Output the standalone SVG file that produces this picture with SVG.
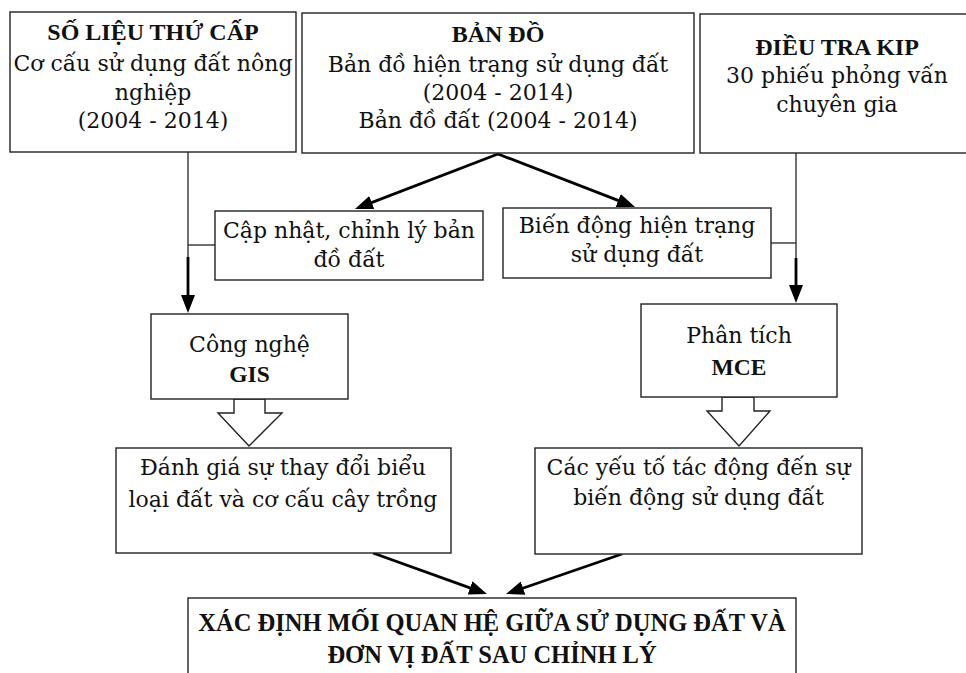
<svg xmlns="http://www.w3.org/2000/svg" width="966" height="673" viewBox="0 0 966 673">
<style>
.box{fill:#fff;stroke:#222;stroke-width:1.4}
.t{font-family:"DejaVu Serif","Liberation Serif",serif;font-size:22px;fill:#111;text-anchor:middle}
.b{font-family:"Liberation Serif","DejaVu Serif",serif;font-weight:bold;font-size:24px}
.bs{font-size:23.5px}
.bb{font-family:"Liberation Serif","DejaVu Serif",serif;font-weight:bold;font-size:24.5px}
.thin{stroke:#333;stroke-width:1.4;fill:none}
.thick{stroke:#000;stroke-width:2.8;fill:none}
.blk{fill:#fff;stroke:#222;stroke-width:1.4}
</style>
<defs>
<marker id="ah" markerUnits="userSpaceOnUse" markerWidth="18" markerHeight="14" refX="8" refY="7" orient="auto">
<path d="M0,0 L18,7 L0,14 z" fill="#000"/>
</marker>
</defs>
<rect width="966" height="673" fill="#fff"/>

<g id="connectors">
<polyline class="thin" points="188,152 188,258"/>
<line class="thin" x1="188" y1="245" x2="215" y2="245"/>
<line class="thick" x1="188" y1="257" x2="188" y2="303" marker-end="url(#ah)"/>
<polyline class="thin" points="796,153 796,259"/>
<line class="thin" x1="771" y1="243" x2="796" y2="243"/>
<line class="thick" x1="796" y1="258" x2="796" y2="293" marker-end="url(#ah)"/>
<line class="thick" x1="498" y1="154" x2="364.3" y2="205.4" marker-end="url(#ah)"/>
<line class="thick" x1="498" y1="154" x2="625.7" y2="203.4" marker-end="url(#ah)"/>
<line class="thick" x1="373" y1="553" x2="477.6" y2="590.6" marker-end="url(#ah)"/>
<line class="thick" x1="622" y1="554" x2="515.5" y2="590.7" marker-end="url(#ah)"/>
<polygon class="blk" points="234,399 234,413 218,413 249,446 282,413 265,413 265,399"/>
<polygon class="blk" points="722,397 722,411 707,411 739,446 770,411 754,411 754,397"/>
</g>

<g id="n-solieu">
<rect class="box" x="10" y="12" width="286" height="140"/>
<text class="t b" x="153" y="40">SỐ LIỆU THỨ CẤP</text>
<text class="t" x="153" y="71">Cơ cấu sử dụng đất nông</text>
<text class="t" x="153" y="100">nghiệp</text>
<text class="t" x="153" y="128">(2004 - 2014)</text>
</g>

<g id="n-bando">
<rect class="box" x="302" y="13" width="392" height="140"/>
<text class="t b" x="498" y="42">BẢN ĐỒ</text>
<text class="t" x="498" y="72">Bản đồ hiện trạng sử dụng đất</text>
<text class="t" x="498" y="100">(2004 - 2014)</text>
<text class="t" x="498" y="128">Bản đồ đất (2004 - 2014)</text>
</g>

<g id="n-dieutra">
<rect class="box" x="700" y="14" width="290" height="139"/>
<text class="t b" x="837" y="55">ĐIỀU TRA KIP</text>
<text class="t" x="837" y="83">30 phiếu phỏng vấn</text>
<text class="t" x="837" y="112">chuyên gia</text>
</g>

<g id="n-capnhat">
<rect class="box" x="215" y="211" width="268" height="69"/>
<text class="t" x="349" y="238">Cập nhật, chỉnh lý bản</text>
<text class="t" x="349" y="267">đồ đất</text>
</g>

<g id="n-biendong">
<rect class="box" x="503" y="208" width="268" height="70"/>
<text class="t" x="637" y="233">Biến động hiện trạng</text>
<text class="t" x="637" y="262">sử dụng đất</text>
</g>

<g id="n-gis">
<rect class="box" x="151" y="314" width="197" height="85"/>
<text class="t" x="249.5" y="352">Công nghệ</text>
<text class="t b bs" x="249.5" y="382">GIS</text>
</g>

<g id="n-mce">
<rect class="box" x="641" y="304" width="196" height="93"/>
<text class="t" x="739" y="343">Phân tích</text>
<text class="t b bs" x="739" y="375">MCE</text>
</g>

<g id="n-danhgia">
<rect class="box" x="116" y="448" width="335" height="105"/>
<text class="t" x="283" y="475">Đánh giá sự thay đổi biểu</text>
<text class="t" x="283" y="507">loại đất và cơ cấu cây trồng</text>
</g>

<g id="n-yeuto">
<rect class="box" x="535" y="448" width="327" height="106"/>
<text class="t" x="698.5" y="475">Các yếu tố tác động đến sự</text>
<text class="t" x="698.5" y="505">biến động sử dụng đất</text>
</g>

<g id="n-xacdinh">
<rect class="box" x="188" y="598" width="608" height="110"/>
<text class="t bb" x="492" y="631">XÁC ĐỊNH MỐI QUAN HỆ GIỮA SỬ DỤNG ĐẤT VÀ</text>
<text class="t bb" x="492" y="663">ĐƠN VỊ ĐẤT SAU CHỈNH LÝ</text>
</g>
</svg>
